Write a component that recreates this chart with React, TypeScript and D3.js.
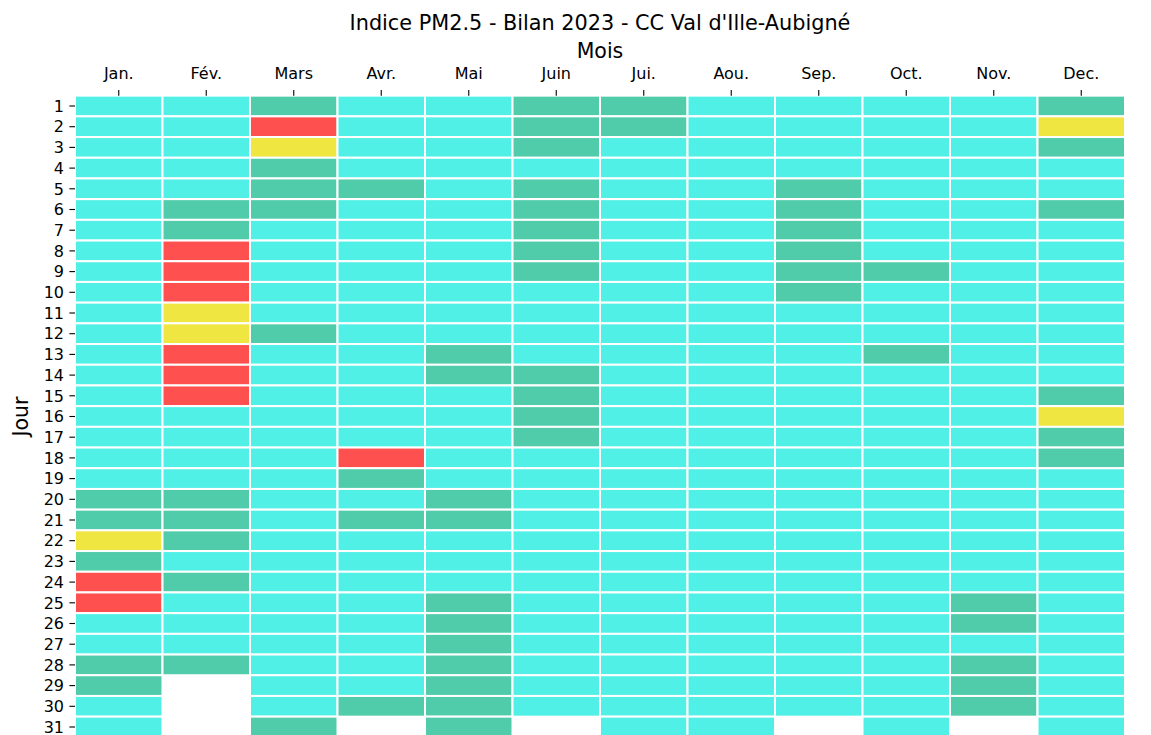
import React, { useEffect } from "react";
import * as d3 from "d3";

// ATMO index classes: 0 bon, 1 moyen, 2 dégradé, 3 mauvais
const months = ["Jan.", "Fév.", "Mars", "Avr.", "Mai", "Juin", "Jui.", "Aou.", "Sep.", "Oct.", "Nov.", "Dec."];
const days = d3.range(1, 32).map(String);

const jan = [0,0,0,0,0,0,0,0,0,0,0,0,0,0,0,0,0,0,0,1,1,2,1,3,3,0,0,1,1,0,0];
const fev = [0,0,0,0,0,1,1,3,3,3,2,2,3,3,3,0,0,0,0,1,1,1,0,1,0,0,0,1];
const mars = [1,3,2,1,1,1,0,0,0,0,0,1,0,0,0,0,0,0,0,0,0,0,0,0,0,0,0,0,0,0,1];
const avr = [0,0,0,0,1,0,0,0,0,0,0,0,0,0,0,0,0,3,1,0,1,0,0,0,0,0,0,0,0,1];
const mai = [0,0,0,0,0,0,0,0,0,0,0,0,1,1,0,0,0,0,0,1,1,0,0,0,1,1,1,1,1,1,1];
const juin = [1,1,1,0,1,1,1,1,1,0,0,0,0,1,1,1,1,0,0,0,0,0,0,0,0,0,0,0,0,0];
const juil = [1,1,0,0,0,0,0,0,0,0,0,0,0,0,0,0,0,0,0,0,0,0,0,0,0,0,0,0,0,0,0];
const aou = [0,0,0,0,0,0,0,0,0,0,0,0,0,0,0,0,0,0,0,0,0,0,0,0,0,0,0,0,0,0,0];
const sep = [0,0,0,0,1,1,1,1,1,1,0,0,0,0,0,0,0,0,0,0,0,0,0,0,0,0,0,0,0,0];
const oct = [0,0,0,0,0,0,0,0,1,0,0,0,1,0,0,0,0,0,0,0,0,0,0,0,0,0,0,0,0,0,0];
const nov = [0,0,0,0,0,0,0,0,0,0,0,0,0,0,0,0,0,0,0,0,0,0,0,0,1,1,0,1,1,1];
const dec = [1,2,1,0,0,1,0,0,0,0,0,0,0,0,1,2,1,1,0,0,0,0,0,0,0,0,0,0,0,0,0];

const series = [jan, fev, mars, avr, mai, juin, juil, aou, sep, oct, nov, dec];
const classColors = ["#50f0e6", "#50ccaa", "#f0e641", "#ff5050"];

const W = 1151;
const H = 735;
const left = 75;
const right = 1125;
const top = 95.65;
const rowH = 20.7;
const font = "'DejaVu Sans', sans-serif";

export default function App() {
  useEffect(() => {
    document.body.style.margin = "0";
    document.body.style.overflow = "hidden";
  }, []);

  const x = d3.scaleBand().domain(months).range([left, right]).padding(0);
  const y = d3.scaleBand().domain(days).range([top, top + rowH * days.length]).padding(0);
  const color = d3.scaleOrdinal<number, string>().domain([0, 1, 2, 3]).range(classColors);

  const cells = series.flatMap((vals, mi) =>
    vals.map((v, di) => ({ month: months[mi], day: days[di], v }))
  );

  const tickLen = 5.6;

  return (
    <svg width={W} height={H} style={{ position: "absolute", left: 0, top: 0, background: "#fff" }} fontFamily={font}>
      <text x={(left + right) / 2} y={30} textAnchor="middle" fontSize={20.8} fill="#000">
        Indice PM2.5 - Bilan 2023 - CC Val d'Ille-Aubigné
      </text>
      <text x={(left + right) / 2} y={58} textAnchor="middle" fontSize={20.5} fill="#000">Mois</text>
      <text
        transform={`translate(28,${top + (rowH * days.length) / 2}) rotate(-90)`}
        textAnchor="middle"
        fontSize={20.5}
        fill="#000"
      >
        Jour
      </text>

      <g>
        {cells.map((c) => (
          <rect
            key={c.month + c.day}
            x={x(c.month)}
            y={y(c.day)}
            width={x.bandwidth()}
            height={y.bandwidth()}
            fill={color(c.v)}
            stroke="#fff"
            strokeWidth={2}
          />
        ))}
      </g>

      <g>
        {months.map((m) => {
          const cx = (x(m) as number) + x.bandwidth() / 2;
          return (
            <g key={m}>
              <line x1={cx} x2={cx} y1={top - tickLen} y2={top} stroke="#000" strokeWidth={1.1} />
              <text x={cx} y={79} textAnchor="middle" fontSize={16} fill="#000">{m}</text>
            </g>
          );
        })}
      </g>

      <g>
        {days.map((d) => {
          const cy = (y(d) as number) + y.bandwidth() / 2;
          return (
            <g key={d}>
              <line x1={left - tickLen} x2={left} y1={cy} y2={cy} stroke="#000" strokeWidth={1.1} />
              <text x={left - 11} y={cy} dy="0.36em" textAnchor="end" fontSize={16} fill="#000">{d}</text>
            </g>
          );
        })}
      </g>
    </svg>
  );
}
